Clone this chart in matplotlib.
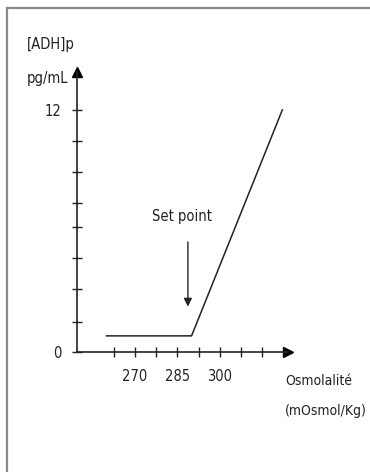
import matplotlib
matplotlib.use("Agg")
import matplotlib.pyplot as plt
from matplotlib.lines import Line2D

plt.rcParams['font.family'] = ['DejaVu Sans']
plt.rcParams['font.stretch'] = 'condensed'

# data
osmo = [260, 290, 322]
adh = [0.8, 0.8, 12]
x_ticks = [262.5, 270, 277.5, 285, 292.5, 300, 307.5, 315]
x_labels = ['', '270', '', '285', '', '300', '', '']
y_ticks = [0, 1.5, 3.1, 4.65, 6.2, 7.4, 8.9, 10.45, 12]
y_labels = ['0', '', '', '', '', '', '', '', '12']
set_point = 288.7

W, H = 370, 472
fs = 10.5
fig = plt.figure(figsize=(W / 100, H / 100), dpi=100)
ax = fig.add_axes([77 / W, (H - 352) / H, 211 / W, 280 / H])

ax.plot(osmo, adh, color='#222222', lw=1.1)
ax.set_xlim(249.6, 324)
ax.set_ylim(0, 13.88)

for s in ['top', 'right']:
    ax.spines[s].set_visible(False)
for s in ['left', 'bottom']:
    ax.spines[s].set_linewidth(1.2)
    ax.spines[s].set_color('#222222')

# arrow heads on the axes
ax.plot(1, 0, '>', color='black', ms=7, transform=ax.transAxes, clip_on=False)
ax.plot(0, 1, '^', color='black', ms=7, transform=ax.transAxes, clip_on=False)

ax.set_xticks(x_ticks)
ax.set_xticklabels(x_labels)
ax.set_yticks(y_ticks)
ax.set_yticklabels(y_labels)
ax.tick_params(direction='inout', length=7, width=1, color='#222222',
               labelsize=fs, colors='#222222')
ax.tick_params(axis='x', pad=9)
ax.tick_params(axis='y', pad=8)

ax.annotate('', xy=(set_point, 2.25), xytext=(set_point, 5.45),
            arrowprops=dict(arrowstyle='-|>', color='#222222', lw=1,
                            mutation_scale=12, shrinkA=0, shrinkB=0))
ax.text(286.5, 6.7, 'Set point', ha='center', va='center', fontsize=fs,
        color='#222222')

fig.text(27 / W, 1 - 45 / H, '[ADH]p', ha='left', va='center', fontsize=fs,
         color='#222222')
fig.text(27 / W, 1 - 78 / H, 'pg/mL', ha='left', va='center', fontsize=fs,
         color='#222222')
fig.text(285 / W, 1 - 381 / H, 'Osmolalité', ha='left', va='center',
         fontsize=10, color='#222222')
fig.text(285 / W, 1 - 411 / H, '(mOsmol/Kg)', ha='left', va='center',
         fontsize=10, color='#222222')

# frame edges (only left and top are visible)
fig.add_artist(Line2D([7 / W, 7 / W], [0, 1 - 8 / H], color='#8a8a8a', lw=1.6))
fig.add_artist(Line2D([7 / W, 1], [1 - 8 / H, 1 - 8 / H], color='#8a8a8a', lw=1.6))

fig.savefig('out.png', dpi=100)
